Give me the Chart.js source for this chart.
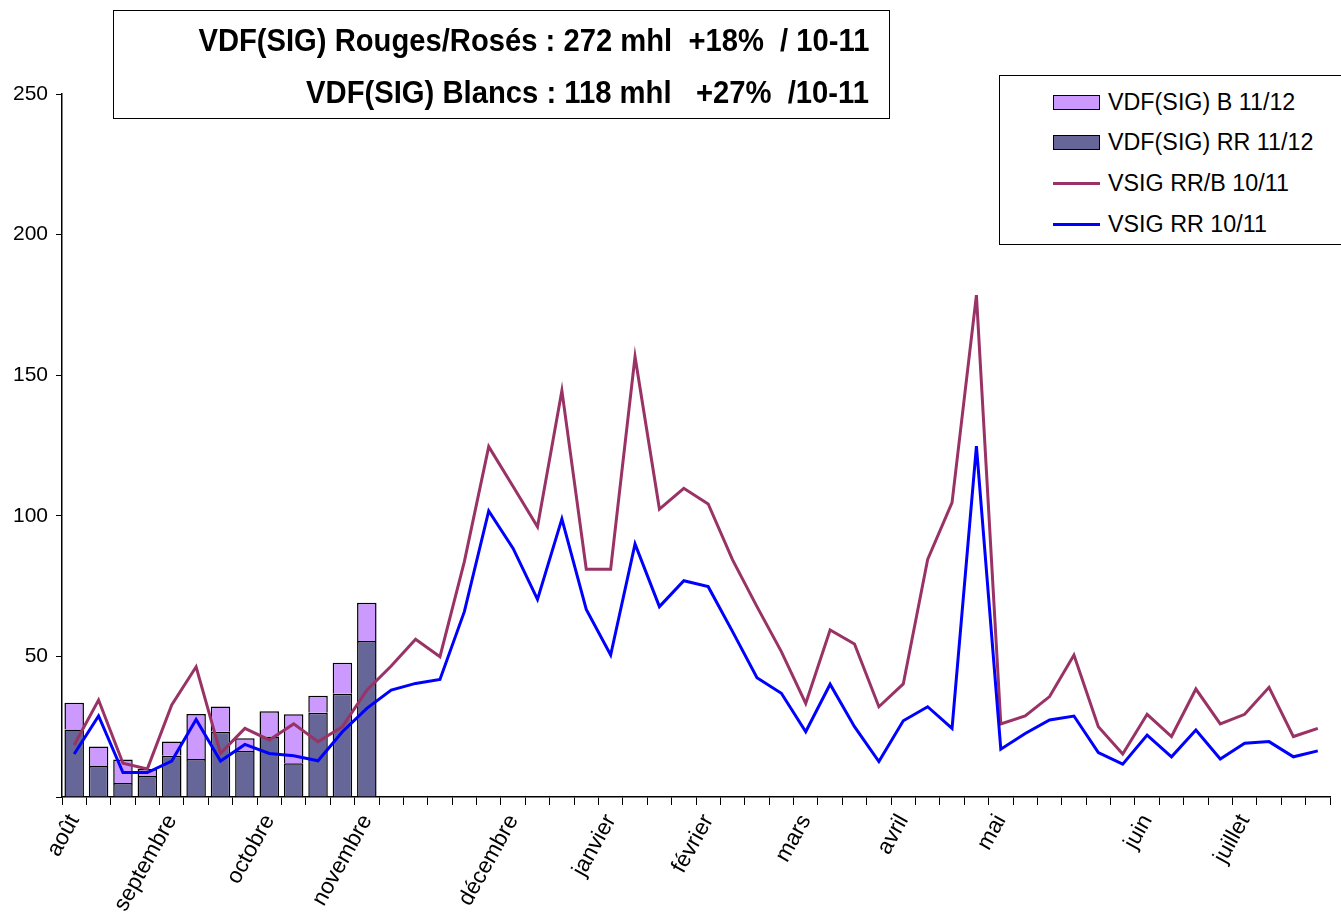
<!DOCTYPE html>
<html>
<head>
<meta charset="utf-8">
<script src="https://cdn.jsdelivr.net/npm/chart.js@4/dist/chart.umd.min.js"></script>
<style>
  body { margin: 0; background: #fff; font-family: Arial, "Liberation Sans", sans-serif; }
  #wrap { position: relative; width: 1341px; height: 923px; overflow: hidden; }
  #titleBox { position: absolute; left: 113px; top: 10px; width: 777px; height: 109px; border: 1.5px solid #000; box-sizing: border-box; }
  .tline { position: absolute; right: 20px; font-weight: bold; font-size: 31px; white-space: pre; line-height: 1; transform-origin: right center; font-family: "Liberation Sans Narrow", "Arial Narrow", Arial, sans-serif; }
  #legendBox { position: absolute; left: 999px; top: 75px; width: 360px; height: 170px; border: 1px solid #000; box-sizing: border-box; background: #fff; }
  .litem { position: absolute; left: 53px; height: 26px; display: flex; align-items: center; font-size: 23.3px; }
  .lsw { width: 47px; box-sizing: border-box; margin-right: 8px; }
</style>
</head>
<body>
<div id="wrap">
  <canvas id="chartCanvas"></canvas>
  <div id="titleBox">
    <div class="tline" id="t1" style="top: 29px;">VDF(SIG) Rouges/Rosés : 272 mhl  +18%  / 10-11</div>
    <div class="tline" id="t2" style="top: 81px;">VDF(SIG) Blancs : 118 mhl   +27%  /10-11</div>
  </div>
  <div id="legendBox"></div>
</div>
<script>
// weekly categories, month name on the first week of each month
const labels = [
  "août", "", "", "", "septembre", "", "", "", "octobre", "", "", "", "novembre", "", "", "", "", "",
  "décembre", "", "", "", "janvier", "", "", "", "février", "", "", "", "mars", "", "", "",
  "avril", "", "", "", "mai", "", "", "", "", "", "juin", "", "", "", "juillet", "", "", ""
];

const rr1112 = [24, 11, 5, 7.5, 14.7, 13.5, 23.2, 16.4, 21.5, 12, 30, 36.7, 55.5];
const b1112 = [9.5, 7, 8.3, 2.5, 5, 16, 9, 4.5, 9, 17.4, 6, 11, 13.6];

const rrb1011 = [
  18.5, 34.5, 12, 10, 32.7, 46.3, 15.5, 24.4, 20.3, 26, 19.7, 25, 38,
  46.6, 56.1, 49.9, 83.7, 124.6, 110.4, 96.1, 144.5, 81, 81, 156.6, 102.4, 109.8,
  104.2, 84.3, 67.7, 51.7, 33.3, 59.4, 54.4, 32.1, 40.2, 84.5, 104.7, 178.5, 26,
  28.8, 35.7, 50.5, 25, 15.3, 29.4, 21.5, 38.4, 26, 29.4, 39, 21.5, 24.4
];
const rr1011 = [
  15.3, 28.8, 8.7, 8.7, 12.8, 27.6, 12.8, 18.7, 15.5, 14.7, 12.9, 23.2, 31.5,
  38, 40.4, 41.8, 65.9, 101.7, 88.4, 70.3, 98.9, 66.7, 50.5, 90, 67.7, 76.9,
  74.8, 58.8, 42.4, 36.9, 23.2, 40.1, 25, 12.6, 27.1, 32.1, 24.4, 124.8, 17,
  22.6, 27.4, 28.8, 15.8, 11.7, 22, 14.3, 23.8, 13.5, 19.1, 19.7, 14.3, 16.4
];

const FONT = 'Arial, "Liberation Sans", sans-serif';

const chart = new Chart(document.getElementById("chartCanvas"), {
  type: "bar",
  data: {
    labels: labels,
    datasets: [
      { label: "VDF(SIG) RR 11/12", data: rr1112, backgroundColor: "#666699", borderColor: "#000", borderWidth: 1.5, stack: "bars", barPercentage: 0.8, categoryPercentage: 1 },
      { label: "VDF(SIG) B 11/12", data: b1112, backgroundColor: "#CC99FF", borderColor: "#000", borderWidth: 1.5, stack: "bars", barPercentage: 0.8, categoryPercentage: 1 },
      { type: "line", label: "VSIG RR/B 10/11", data: rrb1011, borderColor: "#993366", borderWidth: 3, pointRadius: 0, tension: 0, stack: "l1", order: -1 },
      { type: "line", label: "VSIG RR 10/11", data: rr1011, borderColor: "#0000FF", borderWidth: 3, pointRadius: 0, tension: 0, stack: "l2", order: -2 }
    ]
  },
  options: {
    responsive: true,
    maintainAspectRatio: false,
    animation: false,
    layout: { padding: { left: 0, top: 94, right: 11, bottom: 0 } },
    plugins: { legend: { display: false }, tooltip: { enabled: false } },
    scales: {
      x: {
        grid: { drawOnChartArea: false, color: "#000", tickLength: 8, lineWidth: 1 },
        border: { color: "#000", width: 1.5 },
        ticks: { autoSkip: false, minRotation: 61, maxRotation: 61, padding: 5, color: "#000", font: { family: FONT, size: 22.5 } },
        afterFit: (s) => { s.height = 126; s.paddingRight = 0; s.paddingLeft = 0; }
      },
      y: {
        stacked: true,
        min: 0,
        max: 250,
        grid: { drawOnChartArea: false, color: "#000", tickLength: 6 },
        border: { color: "#000", width: 1.5 },
        ticks: { stepSize: 50, padding: 8, color: "#000", font: { family: FONT, size: 21 }, callback: (v) => (v === 0 ? "" : v) },
        afterFit: (s) => { s.width = 62; }
      }
    }
  }
});

// legend box in the reference order
const legendBox = document.getElementById("legendBox");
[1, 0, 2, 3].forEach((di, row) => {
  const ds = chart.data.datasets[di];
  const item = document.createElement("div");
  item.className = "litem";
  item.style.top = (13 + row * 40.7) + "px";
  const sw = document.createElement("div");
  sw.className = "lsw";
  if (ds.type === "line") {
    sw.style.height = "3px";
    sw.style.background = ds.borderColor;
  } else {
    sw.style.height = "15px";
    sw.style.background = ds.backgroundColor;
    sw.style.border = "1.5px solid #000";
  }
  const tx = document.createElement("span");
  tx.textContent = ds.label;
  item.appendChild(sw);
  item.appendChild(tx);
  legendBox.appendChild(item);
});

// fit the bold title lines to the widths seen in the reference
[["t1", 671], ["t2", 563]].forEach(([id, w]) => {
  const el = document.getElementById(id);
  const real = el.getBoundingClientRect().width;
  el.style.transform = "translateY(-50%) scaleX(" + (w / real) + ")";
});
</script>
</body>
</html>
